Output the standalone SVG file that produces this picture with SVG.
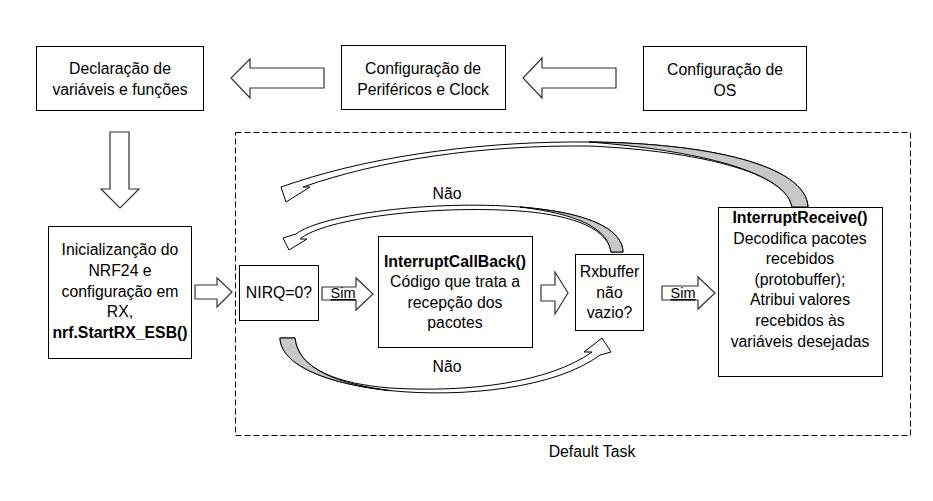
<svg xmlns="http://www.w3.org/2000/svg" width="933" height="501" viewBox="0 0 933 501">
<style>
.box{fill:#fff;stroke:#000;stroke-width:1}
.t{font-family:"Liberation Sans",Arial,sans-serif;font-size:15.8px;fill:#000;text-anchor:middle}
.b{font-weight:bold}
.s{font-size:14.5px;text-decoration:underline}
.blk{fill:#fff;stroke:#333;stroke-width:1.2;stroke-linejoin:miter}
.cw{fill:#fff;stroke:#000;stroke-width:1;stroke-linejoin:miter}
.cg{fill:#c8c8c8;stroke:#000;stroke-width:1}
.dash{fill:none;stroke:#000;stroke-width:1;stroke-dasharray:6 3}
</style>
<rect width="933" height="501" fill="#fff"/>
<g id="default-task">
<rect class="dash" x="235.5" y="132.5" width="675" height="303"/>
<text class="t" x="592" y="457">Default Task</text>
</g>
<g id="connectors">
<polygon class="blk" points="324,68 250,68 250,59 231,78 250,98 250,88 324,88"/>
<polygon class="blk" points="616,68 542,68 542,58 523,78 542,98 542,88 616,88"/>
<polygon class="blk" points="110,132 129,132 129,189 139,189 120,208 101,189 110,189"/>
<polygon class="blk" points="195,285 217,285 217,278 232,292 217,307 217,299 195,299"/>
<polygon class="blk" points="322,287 356,287 356,278 373,294 356,310 356,300 322,300"/>
<text class="t s" x="343" y="298">Sim</text>
<polygon class="blk" points="541,285 555,285 555,272 568,293 555,314 555,301 541,301"/>
<polygon class="blk" points="662,286 698,286 698,277 715,293 698,309 698,300 662,300"/>
<text class="t s" x="683" y="298">Sim</text>
<path class="cw" d="M 808 207 C 806 165, 707 143, 589 142 C 491 141, 381 154, 296 182 L 281 187 L 286 202 L 310 187 L 303 187 C 380 160, 480 145, 589 146 C 680 150, 785 168, 792 207 Z"/>
<path class="cg" d="M 808 207 C 806 165, 707 143, 589 142 C 680 149, 785 168, 792 207 Z"/>
<path class="cw" d="M 623 252 C 622 225, 577 211.5, 520 207 C 434 200, 322 214, 296 234 L 283 238 L 289 250 L 307 239 L 300 239 C 325 218, 434 205, 520 211 C 560 214, 607 224, 611 252 Z"/>
<path class="cg" d="M 623 252 C 622 225, 577 211.5, 520 207 C 560 212, 607 222, 611 252 Z"/>
<text class="t" x="447" y="199">Não</text>
<path class="cw" d="M 280 338 C 281 366, 329 384, 390 390.6 C 464 398, 556 388, 600 355 L 611 352 L 602 338 L 584 352 L 592 352 C 550 382, 470 393, 390 388 C 340 384, 298 370, 295 338 Z"/>
<path class="cg" d="M 280 338 C 281 366, 329 384, 390 390.6 C 340 384, 298 370, 295 338 Z"/>
<text class="t" x="447" y="372">Não</text>
</g>
<g id="declaracao">
<rect class="box" x="36.5" y="46.5" width="167" height="64"/>
<text class="t" x="120" y="74">Declaração de</text>
<text class="t" x="120" y="95">variáveis e funções</text>
</g>
<g id="perifericos">
<rect class="box" x="341.5" y="45.5" width="164" height="64"/>
<text class="t" x="423" y="74">Configuração de</text>
<text class="t" x="423" y="95">Periféricos e Clock</text>
</g>
<g id="os">
<rect class="box" x="643.5" y="46.5" width="163" height="64"/>
<text class="t" x="725" y="75">Configuração de</text>
<text class="t" x="725" y="96">OS</text>
</g>
<g id="inicializacao">
<rect class="box" x="48.5" y="226.5" width="143" height="132"/>
<text class="t" x="120" y="255">Inicializanção do</text>
<text class="t" x="120" y="276">NRF24 e</text>
<text class="t" x="120" y="297">configuração em</text>
<text class="t" x="120" y="317">RX,</text>
<text class="t b" x="120" y="338">nrf.StartRX_ESB()</text>
</g>
<g id="nirq">
<rect class="box" x="239.5" y="265.5" width="79" height="55"/>
<text class="t" x="279" y="298">NIRQ=0?</text>
</g>
<g id="callback">
<rect class="box" x="378.5" y="236.5" width="154" height="111"/>
<text class="t b" x="455" y="267">InterruptCallBack()</text>
<text class="t" x="455" y="287">Código que trata a</text>
<text class="t" x="455" y="308">recepção dos</text>
<text class="t" x="455" y="328">pacotes</text>
</g>
<g id="rxbuffer">
<rect class="box" x="575.5" y="254.5" width="68" height="76"/>
<text class="t" x="609.5" y="277">Rxbuffer</text>
<text class="t" x="609.5" y="298">não</text>
<text class="t" x="609.5" y="318">vazio?</text>
</g>
<g id="receive">
<rect class="box" x="718.5" y="207.5" width="164" height="169"/>
<text class="t b" x="800" y="223">InterruptReceive()</text>
<text class="t" x="800" y="244">Decodifica pacotes</text>
<text class="t" x="800" y="264">recebidos</text>
<text class="t" x="800" y="285">(protobuffer);</text>
<text class="t" x="800" y="305">Atribui valores</text>
<text class="t" x="800" y="326">recebidos às</text>
<text class="t" x="800" y="347">variáveis desejadas</text>
</g>
</svg>
